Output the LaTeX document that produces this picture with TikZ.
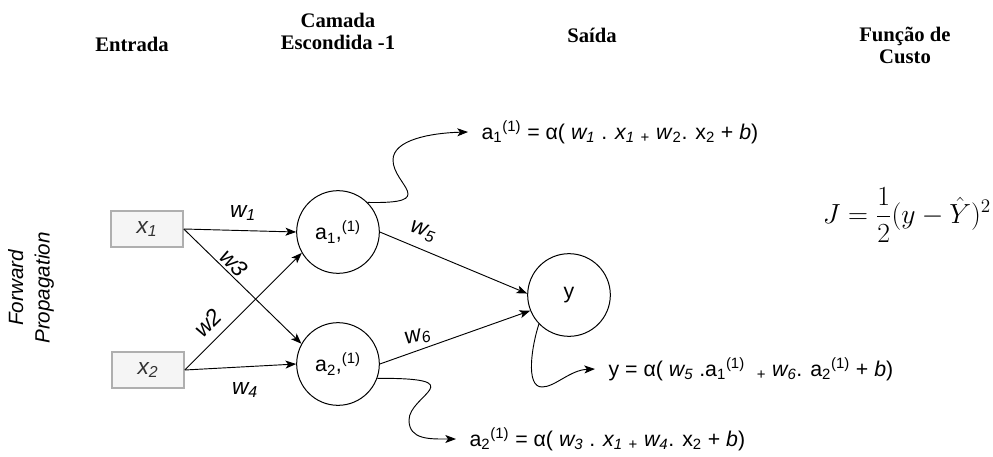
\documentclass[tikz,border=0pt]{standalone}
\usepackage{fontspec}
\setmainfont{Liberation Sans}
\newfontfamily\titlefont{Liberation Serif}
\usepackage{amsmath}
\usetikzlibrary{arrows.meta}
\definecolor{cinzabox}{RGB}{245,245,245}
\definecolor{cinzaborda}{RGB}{175,175,175}
\definecolor{cinzatexto}{RGB}{51,51,51}

\begin{document}
\begin{tikzpicture}[x=0.75pt, y=-0.75pt, font=\fontsize{16}{19}\selectfont,
	titulo/.style={font=\titlefont\bfseries\fontsize{15.5}{16.5}\selectfont, align=center},
	entrada/.style={draw=cinzaborda, fill=cinzabox, line width=1.2pt,
		minimum width=54pt, minimum height=27pt, text=cinzatexto},
	neuronio/.style={draw, circle, line width=0.75pt, minimum size=62pt, inner sep=0pt},
	peso/.style={font=\itshape\fontsize{17}{20}\selectfont},
	formula/.style={anchor=west, inner xsep=10pt, inner ysep=0pt},
	seta/.style={-{Stealth[length=8pt, width=6pt, inset=2pt]}, line width=0.7pt}]
				\useasboundingbox (0,0) rectangle (993,457);
				
				% titulos das colunas
				\node[titulo] (entrada) at (132,44) {Entrada};
				\node[titulo] (camada) at (338,31) {Camada\\Escondida -1};
				\node[titulo] (saida) at (592,35) {Saída};
				\node[titulo] (custo) at (905,45) {Função de\\Custo};
				
				\node[rotate=90, align=center, font=\itshape\fontsize{15.5}{20}\selectfont]
				(fp) at (31,288) {Forward\\Propagation};
				
				% entradas
				\node[entrada] (x1) at (147,229) {\itshape\fontsize{17}{20}\selectfont x\textsubscript{1}};
				\node[entrada] (x2) at (148,370) {\itshape\fontsize{17}{20}\selectfont x\textsubscript{2}};
				
				% neuronios
				\node[neuronio] (a1) at (338,232) {a\textsubscript{1},\textsuperscript{(1)}};
				\node[neuronio] (a2) at (338,364) {a\textsubscript{2},\textsuperscript{(1)}};
				\node[neuronio] (y) at (569,295) {y};
				
				\node (J) at (907,215) {\fontsize{21}{25}\selectfont$\displaystyle J=\frac{1}{2}(y-\hat{Y})^2$};
				
				% formulas
				\node[formula] (f1) at (468,132)
				{a\textsubscript{1}\textsuperscript{(1)} = α( \textit{w\textsubscript{1}} . \textit{x\textsubscript{1}} \textsubscript{+} \textit{w}\textsubscript{2}. x\textsubscript{2} + \textit{b})};
				\node[formula] (f2) at (456,439)
				{a\textsubscript{2}\textsuperscript{(1)} = α( \textit{w\textsubscript{3}} . \textit{x\textsubscript{1}} \textsubscript{+} \textit{w\textsubscript{4}}. x\textsubscript{2} + \textit{b})};
				\node[formula] (f3) at (595,369)
				{y = α( \textit{w\textsubscript{5}} .a\textsubscript{1}\textsuperscript{(1)} \ \textsubscript{+} \textit{w\textsubscript{6}}. a\textsubscript{2}\textsuperscript{(1)} + \textit{b})};
				
				% pesos
				\node[peso] (w1) at (243,213) {w\textsubscript{1}};
				\node[peso, rotate=-45] (w3) at (234,263) {w3};
				\node[peso, rotate=45] (w2) at (208,323) {w2};
				\node[peso] (w4) at (245,390) {w\textsubscript{4}};
				\node[peso, rotate=-18] (w5) at (423,232) {w\textsubscript{5}};
				\node[peso, rotate=14] (w6) at (418,337) {w\textsubscript{6}};
				
				\draw[seta] (x1.east) -- (a1.180);
				\draw[seta] (x1.east) -- (a2.151);
				\draw[seta] (x2.east) -- (a1.210);
				\draw[seta] (x2.east) -- (a2.west);
				\draw[seta] (a1.east) -- (y.178);
				\draw[seta] (a2.east) -- (y.202);
				
				\draw[seta] (a1.45) .. controls (440,204) and (393,185) .. (393,160)
				.. controls (393,140) and (430,133) .. (f1.west);
				\draw[seta] (a2.-20) .. controls (475,378) and (409,395) .. (409,420)
				.. controls (409,440) and (430,439) .. (f2.west);
				\draw[seta] (y.-136) .. controls (532,345) and (525,387) .. (542,387)
				.. controls (555,387) and (570,370) .. (f3.west);
			\end{tikzpicture}
\end{document}
